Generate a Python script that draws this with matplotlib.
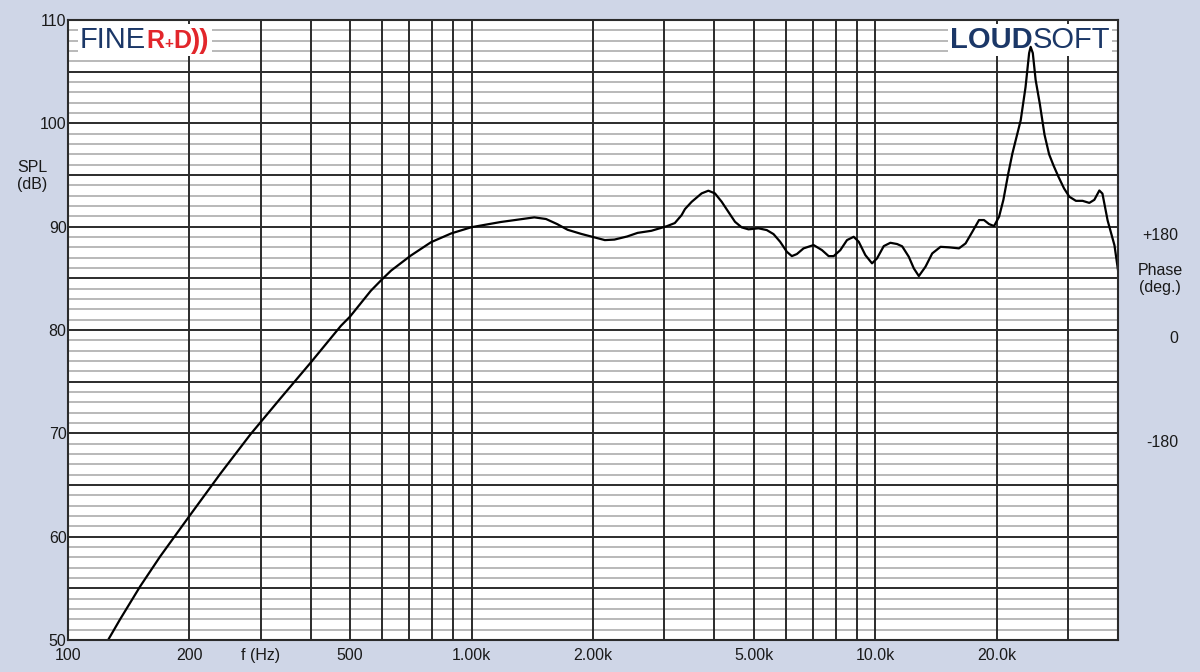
import matplotlib
matplotlib.use("Agg")
import matplotlib.pyplot as plt
import matplotlib.transforms as mtransforms
from matplotlib.offsetbox import AnchoredOffsetbox, HPacker, TextArea
from matplotlib.ticker import FixedLocator

# frequency response (Hz, dB SPL)
freq_hz = [
    125.7, 134.6, 151, 169.3, 200.8, 238.6, 283.2, 336.4, 399.5, 474.5, 500,
    563, 600, 632, 707, 794, 891, 1000, 1181, 1431, 1530, 1630, 1730, 1870,
    2000, 2140, 2260, 2430, 2580, 2790, 3050, 3190, 3316, 3380, 3511, 3717,
    3863, 4011, 4168, 4329, 4497, 4673, 4857, 5140, 5391, 5603, 5818, 6045,
    6220, 6401, 6650, 7042, 7387, 7674, 7897, 8202, 8520, 8853, 9111, 9461,
    9829, 10115, 10510, 10914, 11339, 11672, 12122, 12477, 12838, 13333,
    13856, 14530, 15246, 16143, 16763, 17418, 18098, 18621, 19164, 19720,
    20292, 20800, 21400, 21900, 22960, 23600, 24090, 24300, 24600, 25000,
    25600, 26300, 27000, 27700, 28500, 29400, 30300, 31460, 32680, 33960,
    34950, 35960, 36600, 37700, 39200, 40000,
]
spl_db = [
    50.0, 52.0, 55.2, 58.1, 62.1, 66.1, 69.9, 73.4, 76.85, 80.4, 81.3,
    83.8, 84.9, 85.75, 87.2, 88.5, 89.35, 89.95, 90.45, 90.9, 90.74, 90.25,
    89.7, 89.3, 89.0, 88.7, 88.75, 89.05, 89.4, 89.6, 90.05, 90.35, 91.12,
    91.7, 92.4, 93.22, 93.48, 93.22, 92.41, 91.44, 90.47, 89.93, 89.74,
    89.84, 89.67, 89.28, 88.54, 87.57, 87.15, 87.35, 87.9, 88.22, 87.73,
    87.15, 87.15, 87.73, 88.7, 89.02, 88.54, 87.25, 86.45, 86.93, 88.12,
    88.44, 88.32, 88.1, 87.09, 85.96, 85.22, 86.12, 87.41, 88.05, 88.0, 87.9,
    88.38, 89.5, 90.64, 90.64, 90.25, 90.06, 90.96, 92.6, 95.2, 97.1, 100.3,
    103.5, 106.8, 107.4, 106.8, 104.2, 101.9, 98.9, 97.0, 95.9, 94.8, 93.7,
    92.9, 92.5, 92.5, 92.3, 92.6, 93.5, 93.2, 90.6, 88.2, 85.8,
]

x_ticks = [100, 200, 300, 500, 1000, 2000, 5000, 10000, 20000]
x_labels = ["100", "200", "f (Hz)", "500", "1.00k", "2.00k", "5.00k", "10.0k", "20.0k"]
x_grid = [m * 10 ** e for e in (2, 3, 4) for m in range(1, 10) if m * 10 ** e <= 40000]
y_major = list(range(50, 111, 5))
y_labels = [str(v) if v % 10 == 0 else "" for v in y_major]
y_minor = list(range(50, 111))
phase_pos = [90, 80, 70]
phase_labels = ["+180", "0", "-180"]

bg = "#cfd6e7"
dark = "#2b2b2b"
grey = "#a6a6a6"
navy = "#1b3767"
red = "#e2262b"
txt = "#1a1a1a"

plt.rcParams["font.family"] = ["Liberation Sans", "DejaVu Sans"]

fig = plt.figure(figsize=(12, 6.72), dpi=100, facecolor=bg)
ax = fig.add_axes([68 / 1200, 32 / 672, 1050 / 1200, 620 / 672])
ax.set_facecolor("white")

ax.plot(freq_hz, spl_db, color="black", linewidth=1.6, zorder=4,
        solid_joinstyle="round")

ax.set_xscale("log")
ax.set_xlim(100, 40000)
ax.set_ylim(50, 110)

ax.xaxis.set_major_locator(FixedLocator(x_ticks))
ax.set_xticklabels(x_labels)
ax.xaxis.set_minor_locator(FixedLocator(x_grid))
ax.xaxis.set_minor_formatter(plt.NullFormatter())
ax.set_yticks(y_major, y_labels)
ax.yaxis.set_minor_locator(FixedLocator(y_minor))

ax.tick_params(which="both", length=0, labelsize=11.5, labelcolor=txt)
ax.tick_params(axis="x", pad=6)
ax.tick_params(axis="y", pad=1)

ax.grid(which="major", axis="y", color=dark, linewidth=1.4)
ax.grid(which="minor", axis="y", color=grey, linewidth=1.1)
ax.grid(which="both", axis="x", color=dark, linewidth=1.4)
ax.set_axisbelow("line")
ax.xaxis.set_zorder(2.6)

for s in ax.spines.values():
    s.set_color(dark)
    s.set_linewidth(1.5)
    s.set_zorder(5)

# right-hand phase scale labels
blend = mtransforms.blended_transform_factory(ax.transAxes, ax.transData)
for pos, lab in zip(phase_pos, phase_labels):
    ax.text(1.0571, pos - 0.85, lab, transform=blend, ha="right", va="center",
            fontsize=11.5, color=txt)
fig.text(1160 / 1200, 1 - 279 / 672, "Phase\n(deg.)", ha="center", va="center",
         fontsize=11.5, color=txt, linespacing=1.15)
fig.text(32 / 1200, 1 - 176 / 672, "SPL\n(dB)", ha="center", va="center",
         fontsize=11.5, color=txt, linespacing=1.15)


def logo(parts, loc, anchor):
    areas = [TextArea(t, textprops=p) for t, p in parts]
    box = HPacker(children=areas, align="baseline", pad=0, sep=0)
    ab = AnchoredOffsetbox(loc=loc, child=box, pad=0.15, borderpad=0,
                           frameon=True, bbox_to_anchor=anchor,
                           bbox_transform=ax.transAxes)
    ab.patch.set_facecolor("white")
    ab.patch.set_edgecolor("none")
    ab.patch.set_boxstyle("square", pad=0)
    ab.set_zorder(3)
    ax.add_artist(ab)


logo([
    ("FINE", dict(color=navy, size=21)),
    ("R", dict(color=red, size=18, weight="bold")),
    ("+", dict(color=red, size=11, weight="bold")),
    ("D", dict(color=red, size=18, weight="bold")),
    ("))", dict(color=red, size=20, weight="bold")),
], "upper left", (0.0095, 0.9935))

logo([
    ("LOUD", dict(color=navy, size=21, weight="bold")),
    ("SOFT", dict(color=navy, size=21)),
], "upper right", (0.9943, 0.9935))

fig.savefig("out.png", dpi=100, facecolor=bg)
